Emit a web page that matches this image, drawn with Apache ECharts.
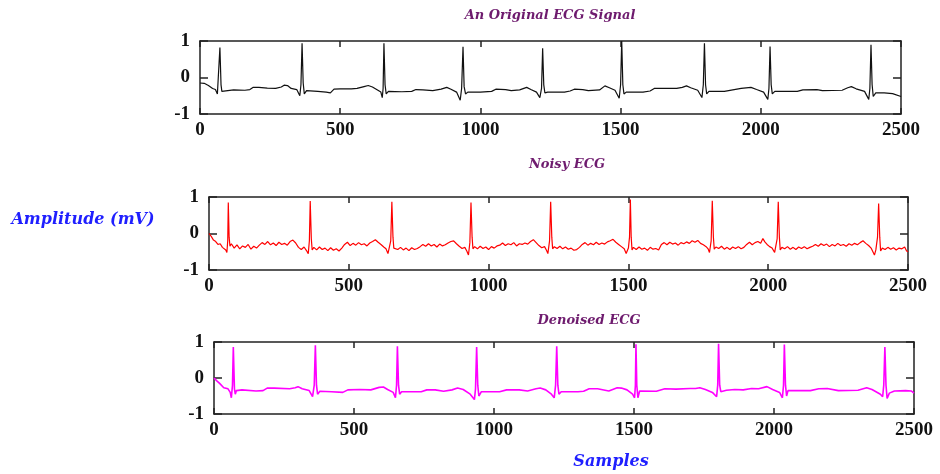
<!DOCTYPE html>
<html>
<head>
<meta charset="utf-8">
<script src="https://cdn.jsdelivr.net/npm/echarts@6/dist/echarts.min.js"></script>
<style>
  html, body { margin: 0; padding: 0; background: #fff; }
  #chart { width: 940px; height: 474px; }
</style>
</head>
<body>
<div id="chart"></div>
<script>
// ---- data: [sample, amplitude mV] ----
const panelTitles = ['An Original ECG Signal', 'Noisy ECG', 'Denoised ECG'];
const xTicks = [0, 500, 1000, 1500, 2000, 2500];
const yTicks = [-1, 0, 1];

const originalEcg = [
  [0,-0.15],[15,-0.16],[30,-0.22],[45,-0.3],[55,-0.33],[62,-0.45],[66,-0.4],[71,0.82],[75,-0.2],[78,-0.38],[85,-0.33],
  [120,-0.34],[160,-0.35],[178,-0.33],[190,-0.27],[210,-0.27],[240,-0.29],[270,-0.3],[290,-0.26],[300,-0.21],[312,-0.22],
  [325,-0.3],[345,-0.33],[356,-0.5],[360,-0.2],[364,0.94],[368,-0.15],[372,-0.45],[380,-0.36],[420,-0.38],[450,-0.4],
  [465,-0.42],[478,-0.32],[500,-0.31],[540,-0.31],[560,-0.3],[585,-0.25],[600,-0.22],[615,-0.26],[630,-0.33],[645,-0.4],
  [650,-0.55],[653,-0.3],[656,0.94],[660,-0.2],[664,-0.45],[672,-0.38],[720,-0.39],[755,-0.38],[770,-0.33],[795,-0.34],
  [830,-0.36],[860,-0.32],[880,-0.27],[895,-0.32],[915,-0.4],[928,-0.62],[933,-0.3],[938,0.84],[942,-0.25],[947,-0.45],
  [955,-0.4],[1000,-0.4],[1040,-0.38],[1055,-0.32],[1090,-0.33],[1110,-0.36],[1140,-0.34],[1165,-0.27],[1180,-0.33],
  [1200,-0.4],[1212,-0.55],[1218,-0.3],[1222,0.8],[1226,-0.2],[1230,-0.42],[1240,-0.4],[1300,-0.4],[1320,-0.37],
  [1335,-0.32],[1365,-0.33],[1385,-0.36],[1425,-0.34],[1444,-0.23],[1460,-0.28],[1480,-0.35],[1495,-0.57],[1500,-0.2],
  [1504,1.0],[1508,-0.2],[1512,-0.45],[1520,-0.4],[1580,-0.4],[1605,-0.37],[1620,-0.3],[1700,-0.3],[1720,-0.27],
  [1735,-0.23],[1750,-0.28],[1775,-0.35],[1790,-0.55],[1795,-0.2],[1799,0.94],[1803,-0.2],[1807,-0.45],[1815,-0.38],
  [1870,-0.38],[1905,-0.33],[1930,-0.3],[1965,-0.27],[1985,-0.33],[2010,-0.4],[2025,-0.6],[2029,-0.3],[2033,0.85],
  [2037,-0.2],[2041,-0.45],[2050,-0.38],[2130,-0.38],[2150,-0.34],[2200,-0.33],[2220,-0.36],[2290,-0.35],[2310,-0.28],
  [2323,-0.25],[2340,-0.31],[2370,-0.38],[2385,-0.6],[2389,-0.3],[2393,0.9],[2397,-0.2],[2401,-0.52],[2410,-0.42],
  [2440,-0.42],[2470,-0.44],[2500,-0.52]
];

const noisyEcg = [
  [0,0.0],[8,-0.08],[16,-0.18],[24,-0.22],[32,-0.3],[40,-0.28],[48,-0.38],[55,-0.33],[60,-0.45],[64,-0.52],[67,-0.2],
  [69,0.85],[72,-0.1],[75,-0.35],[80,-0.28],[90,-0.4],[100,-0.31],[110,-0.42],[120,-0.34],[130,-0.38],[140,-0.3],
  [150,-0.43],[160,-0.35],[170,-0.4],[180,-0.32],[190,-0.25],[200,-0.3],[210,-0.22],[220,-0.31],[230,-0.26],[240,-0.33],
  [250,-0.24],[260,-0.3],[270,-0.27],[280,-0.32],[290,-0.22],[300,-0.18],[310,-0.26],[320,-0.38],[330,-0.44],[340,-0.37],
  [348,-0.46],[355,-0.55],[359,-0.2],[362,0.89],[366,-0.15],[369,-0.45],[375,-0.38],[385,-0.45],[395,-0.37],[405,-0.44],
  [415,-0.4],[425,-0.47],[435,-0.39],[445,-0.46],[455,-0.42],[465,-0.48],[475,-0.4],[485,-0.3],[495,-0.24],[505,-0.33],
  [515,-0.27],[525,-0.32],[535,-0.25],[545,-0.31],[555,-0.28],[565,-0.34],[575,-0.26],[585,-0.22],[595,-0.17],[605,-0.24],
  [615,-0.3],[625,-0.37],[633,-0.42],[640,-0.55],[645,-0.5],[650,-0.2],[654,0.87],[658,-0.1],[661,-0.4],[667,-0.35],
  [675,-0.44],[685,-0.38],[695,-0.45],[705,-0.4],[715,-0.47],[725,-0.39],[735,-0.44],[745,-0.41],[755,-0.36],[765,-0.3],
  [775,-0.35],[785,-0.28],[795,-0.34],[805,-0.3],[815,-0.37],[825,-0.29],[835,-0.34],[845,-0.31],[855,-0.26],[865,-0.22],
  [875,-0.2],[885,-0.28],[895,-0.35],[905,-0.41],[915,-0.38],[922,-0.48],[928,-0.59],[933,-0.25],[937,0.85],[941,-0.1],
  [944,-0.42],[950,-0.36],[960,-0.42],[970,-0.35],[980,-0.41],[990,-0.37],[1000,-0.44],[1010,-0.36],[1020,-0.4],
  [1030,-0.34],[1040,-0.32],[1050,-0.26],[1060,-0.33],[1070,-0.28],[1080,-0.31],[1090,-0.25],[1100,-0.34],[1110,-0.28],
  [1120,-0.3],[1130,-0.26],[1140,-0.29],[1150,-0.22],[1160,-0.17],[1170,-0.25],[1180,-0.33],[1190,-0.39],[1200,-0.36],
  [1207,-0.46],[1212,-0.55],[1218,-0.2],[1222,0.87],[1226,-0.1],[1229,-0.42],[1235,-0.36],[1245,-0.41],[1255,-0.35],
  [1265,-0.42],[1275,-0.37],[1285,-0.43],[1295,-0.4],[1305,-0.46],[1315,-0.44],[1325,-0.38],[1335,-0.3],[1345,-0.25],
  [1355,-0.32],[1365,-0.27],[1375,-0.31],[1385,-0.24],[1395,-0.3],[1405,-0.26],[1415,-0.29],[1425,-0.23],[1435,-0.2],
  [1445,-0.16],[1455,-0.24],[1465,-0.3],[1475,-0.36],[1485,-0.42],[1492,-0.55],[1500,-0.4],[1504,-0.1],[1507,0.93],
  [1510,-0.1],[1513,-0.45],[1518,-0.38],[1528,-0.44],[1538,-0.37],[1548,-0.43],[1558,-0.4],[1568,-0.46],[1578,-0.38],
  [1588,-0.43],[1598,-0.41],[1608,-0.45],[1618,-0.3],[1628,-0.25],[1638,-0.31],[1648,-0.24],[1658,-0.29],[1668,-0.26],
  [1678,-0.32],[1688,-0.25],[1698,-0.28],[1708,-0.23],[1718,-0.27],[1728,-0.2],[1738,-0.24],[1748,-0.19],[1758,-0.27],
  [1768,-0.31],[1778,-0.36],[1785,-0.42],[1790,-0.52],[1796,-0.2],[1800,0.9],[1804,-0.1],[1807,-0.43],[1813,-0.37],
  [1823,-0.41],[1833,-0.35],[1843,-0.43],[1853,-0.38],[1863,-0.44],[1873,-0.37],[1883,-0.41],[1893,-0.36],[1903,-0.42],
  [1913,-0.38],[1923,-0.3],[1933,-0.24],[1943,-0.31],[1953,-0.25],[1963,-0.22],[1973,-0.27],[1981,-0.14],[1988,-0.23],
  [1996,-0.3],[2005,-0.36],[2014,-0.4],[2023,-0.52],[2032,-0.15],[2036,0.87],[2040,-0.1],[2043,-0.45],[2049,-0.38],
  [2059,-0.42],[2069,-0.36],[2079,-0.43],[2089,-0.38],[2099,-0.44],[2109,-0.37],[2119,-0.41],[2129,-0.36],[2139,-0.42],
  [2149,-0.38],[2159,-0.35],[2169,-0.3],[2179,-0.35],[2189,-0.28],[2199,-0.33],[2209,-0.29],[2219,-0.36],[2229,-0.3],
  [2239,-0.34],[2249,-0.27],[2259,-0.33],[2269,-0.3],[2279,-0.35],[2289,-0.28],[2299,-0.32],[2309,-0.27],[2319,-0.31],
  [2329,-0.25],[2339,-0.2],[2349,-0.27],[2359,-0.33],[2368,-0.4],[2375,-0.45],[2380,-0.59],[2385,-0.45],[2391,-0.1],
  [2395,0.82],[2399,-0.1],[2402,-0.48],[2408,-0.4],[2418,-0.44],[2428,-0.38],[2438,-0.43],[2448,-0.39],[2458,-0.45],
  [2468,-0.4],[2478,-0.42],[2488,-0.37],[2495,-0.48],[2500,-0.5]
];

const denoisedEcg = [
  [0,0.0],[10,-0.08],[20,-0.15],[35,-0.27],[50,-0.3],[58,-0.4],[62,-0.55],[66,-0.2],[69,0.86],[73,-0.3],[76,-0.45],
  [80,-0.35],[100,-0.33],[150,-0.36],[175,-0.35],[190,-0.28],[215,-0.28],[270,-0.3],[290,-0.27],[300,-0.24],[315,-0.3],
  [340,-0.35],[352,-0.52],[358,-0.2],[362,0.91],[366,-0.2],[370,-0.45],[378,-0.37],[420,-0.38],[460,-0.4],[478,-0.33],
  [520,-0.32],[560,-0.33],[590,-0.26],[605,-0.25],[620,-0.32],[640,-0.4],[648,-0.55],[652,-0.2],[655,0.88],[659,-0.2],
  [663,-0.45],[670,-0.38],[740,-0.38],[760,-0.33],[790,-0.33],[820,-0.37],[850,-0.33],[870,-0.28],[890,-0.32],
  [915,-0.45],[930,-0.6],[934,-0.3],[938,0.86],[942,-0.2],[946,-0.5],[955,-0.38],[1020,-0.38],[1045,-0.33],[1090,-0.33],
  [1120,-0.36],[1150,-0.3],[1165,-0.28],[1185,-0.33],[1205,-0.45],[1215,-0.55],[1220,-0.2],[1224,0.88],[1228,-0.2],
  [1232,-0.45],[1240,-0.38],[1300,-0.38],[1320,-0.37],[1340,-0.3],[1370,-0.3],[1410,-0.36],[1440,-0.27],[1455,-0.28],
  [1475,-0.33],[1495,-0.45],[1502,-0.55],[1505,-0.2],[1507,0.94],[1510,-0.2],[1514,-0.55],[1520,-0.36],[1580,-0.37],
  [1610,-0.3],[1650,-0.31],[1700,-0.29],[1720,-0.29],[1735,-0.27],[1755,-0.32],[1780,-0.4],[1795,-0.52],[1799,-0.2],
  [1802,0.95],[1806,-0.2],[1810,-0.38],[1830,-0.34],[1860,-0.32],[1890,-0.33],[1920,-0.29],[1945,-0.3],[1975,-0.24],
  [1995,-0.32],[2020,-0.4],[2030,-0.55],[2034,-0.2],[2037,0.93],[2041,-0.2],[2045,-0.5],[2050,-0.35],[2060,-0.35],
  [2130,-0.35],[2160,-0.3],[2190,-0.29],[2230,-0.35],[2300,-0.34],[2331,-0.27],[2350,-0.32],[2380,-0.45],[2388,-0.52],
  [2392,-0.2],[2396,0.86],[2400,-0.2],[2404,-0.57],[2412,-0.42],[2430,-0.36],[2470,-0.35],[2490,-0.36],[2500,-0.42]
];

// ---- layout (pixel boxes of the three panels) ----
const panels = [
  { data: originalEcg, color: '#111111', width: 1.2, box: { left: 200, top: 41, width: 701, height: 73 }, titleX: 550, titleY: 16 },
  { data: noisyEcg,    color: '#ff0000', width: 1.2, box: { left: 209, top: 197, width: 699, height: 73 }, titleX: 567, titleY: 165 },
  { data: denoisedEcg, color: '#ff00ff', width: 1.6, box: { left: 214, top: 342, width: 700, height: 72 }, titleX: 589, titleY: 321 }
];

const frame = { show: true, onZero: false, lineStyle: { color: '#222', width: 1.5 } };
const tickFont = { color: '#111', fontFamily: 'Liberation Serif', fontWeight: 'bold', fontSize: 19,
  formatter: v => String(v) };
const tickLine = { color: '#222', width: 1.5 };

const grid = [], xAxis = [], yAxis = [], series = [], graphic = [];
panels.forEach((p, i) => {
  grid.push(p.box);
  const xBase = { type: 'value', gridIndex: i, min: xTicks[0], max: xTicks[xTicks.length - 1], interval: 500,
    axisLine: frame, splitLine: { show: false } };
  xAxis.push({ ...xBase, position: 'bottom',
    axisTick: { inside: true, length: 6, lineStyle: tickLine },
    axisLabel: { ...tickFont, margin: 7 } });
  xAxis.push({ ...xBase, position: 'top',
    axisTick: { inside: true, length: 6, lineStyle: tickLine },
    axisLabel: { show: false } });
  const yBase = { type: 'value', gridIndex: i, min: yTicks[0], max: yTicks[yTicks.length - 1], interval: 1,
    axisLine: frame, splitLine: { show: false } };
  yAxis.push({ ...yBase, position: 'left',
    axisTick: { inside: true, length: 8, lineStyle: tickLine },
    axisLabel: { ...tickFont, margin: 10 } });
  yAxis.push({ ...yBase, position: 'right',
    axisTick: { inside: true, length: 8, lineStyle: tickLine },
    axisLabel: { show: false } });
  series.push({ type: 'line', xAxisIndex: i * 2, yAxisIndex: i * 2, data: p.data, showSymbol: false,
    lineStyle: { color: p.color, width: p.width }, silent: true });
  graphic.push({ type: 'text', x: p.titleX, y: p.titleY,
    style: { text: panelTitles[i], fill: '#6e1b6e', font: 'italic bold 13px "DejaVu Serif"',
      textAlign: 'center', textVerticalAlign: 'middle' } });
});

graphic.push({ type: 'text', x: 83, y: 220,
  style: { text: 'Amplitude (mV)', fill: '#1f1fff', font: 'italic bold 16px "DejaVu Serif"',
    textAlign: 'center', textVerticalAlign: 'middle' } });
graphic.push({ type: 'text', x: 611, y: 462,
  style: { text: 'Samples', fill: '#1f1fff', font: 'italic bold 16px "DejaVu Serif"',
    textAlign: 'center', textVerticalAlign: 'middle' } });

const chart = echarts.init(document.getElementById('chart'), null, { renderer: 'canvas' });
chart.setOption({ animation: false, backgroundColor: '#fff', grid, xAxis, yAxis, series, graphic });
</script>
</body>
</html>
